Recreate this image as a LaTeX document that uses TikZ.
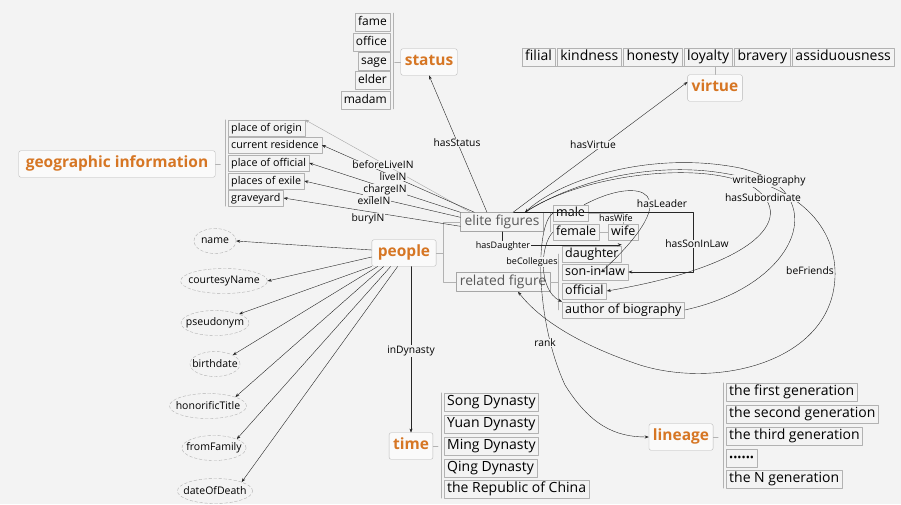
\documentclass[tikz,border=0pt]{standalone}
\usepackage{fontspec}
\setmainfont{Open Sans}
\usetikzlibrary{shapes.geometric,arrows.meta,positioning}
\definecolor{bgc}{RGB}{243,243,243}
\definecolor{topicc}{RGB}{214,118,36}
\begin{document}
\begin{tikzpicture}[x=1pt,y=-1pt,>={Stealth[length=4pt,width=3pt]},line join=round,line cap=round,
  font=\fontsize{10.5}{12}\selectfont,
  topic/.style={draw=gray!55,rounded corners=2pt,fill=white!60!bgc,text=topicc,inner xsep=4pt,inner ysep=6pt,
    font=\fontsize{15.5}{18}\selectfont\bfseries,text height=11pt,text depth=3.5pt},
  leaf/.style={draw=gray!60,inner xsep=3pt,inner ysep=1.8pt},
  sbig/.style={font=\fontsize{14}{16}\selectfont,text height=11pt,text depth=3.5pt},
  smid/.style={font=\fontsize{12.5}{15}\selectfont,text height=9.5pt,text depth=3pt},
  sstat/.style={font=\fontsize{12}{14}\selectfont,text height=10.5pt,text depth=3.5pt},
  sgeo/.style={font=\fontsize{10.7}{13}\selectfont,text height=9.5pt,text depth=3pt},
  fig/.style={draw=gray!70,text=black!65,inner xsep=4pt,inner ysep=3pt,font=\fontsize{13.8}{16}\selectfont,
    text height=10pt,text depth=3pt},
  attr/.style={ellipse,draw=gray!60,densely dashed,inner xsep=-5pt,inner ysep=0pt,
    minimum width=42pt,minimum height=25pt},
  rel/.style={->,thin,black!85},
  brk/.style={gray!60,thin},
  lbl/.style={font=\fontsize{10.3}{12}\selectfont,fill=bgc,inner sep=0.5pt}]
\fill[bgc] (0,0) rectangle (901,504);
\useasboundingbox (0,0) rectangle (901,504);

% status
\node[topic] (status) at (429,62) {status};
\node[leaf,sstat,anchor=east] (fame) at (390,22) {fame};
\node[leaf,sstat,anchor=east] (office) at (390,42) {office};
\node[leaf,sstat,anchor=east] (sage) at (390,61) {sage};
\node[leaf,sstat,anchor=east] (elder) at (390,80) {elder};
\node[leaf,sstat,anchor=east] (madam) at (390,100) {madam};
\draw[brk] ([xshift=3pt]fame.north east) -- ([xshift=3pt]madam.south east);
\draw[brk] (status.west) -- ++(-6,0);

% virtue
\node[topic] (virtue) at (715,88) {virtue};
\begin{scope}[every node/.append style={inner xsep=5pt}]
\node[leaf,sbig,anchor=west] (filial) at (522,57) {filial};
\node[leaf,sbig,right=2pt of filial] (kind) {kindness};
\node[leaf,sbig,right=2pt of kind] (honest) {honesty};
\node[leaf,sbig,right=2pt of honest] (loyal) {loyalty};
\node[leaf,sbig,right=2pt of loyal] (brave) {bravery};
\node[leaf,sbig,right=2pt of brave] (assid) {assiduousness};
\end{scope}
\draw[brk] (filial.south west) -- (assid.south east);
\draw[brk] (virtue.north) -- (virtue.north |- filial.south);

% geographic information
\node[topic,inner xsep=7pt] (geo) at (117,164) {geographic information};
\node[leaf,sgeo,anchor=west] (origin) at (228,128) {place of origin};
\node[leaf,sgeo,anchor=west] (resid) at (228,145) {current residence};
\node[leaf,sgeo,anchor=west] (poff) at (228,163) {place of official};
\node[leaf,sgeo,anchor=west] (exile) at (228,181) {places of exile};
\node[leaf,sgeo,anchor=west] (grave) at (228,198) {graveyard};
\draw[brk] ([xshift=-3pt]origin.north west) -- ([xshift=-3pt]grave.south west);
\draw[brk] (geo.east) -- ++(5,0);

% people and figures
\node[topic,inner xsep=6pt] (people) at (404,253) {people};
\node[fig] (elite) at (502,222) {elite figures};
\node[fig] (related) at (503,282) {related figure};
\draw[brk] (people.east) -- ++(7,0) coordinate (pb);
\draw[brk] (elite.west) -| (pb) |- (related.west);
\node[leaf,smid,anchor=west] (male) at (553,213) {male};
\node[leaf,smid,anchor=west] (female) at (553,232) {female};
\node[leaf,smid,anchor=west] (wife) at (608,232) {wife};
\node[leaf,smid,anchor=west] (daughter) at (562,254) {daughter};
\node[leaf,smid,anchor=west] (sil) at (562,272) {son-in-law};
\node[leaf,smid,anchor=west] (official) at (562,291) {official};
\node[leaf,smid,anchor=west] (author) at (562,310) {author of biography};
\draw[brk] ([xshift=-3pt]male.west) -- ([xshift=-3pt]female.west);
\draw[brk] ([xshift=-4pt]daughter.west) -- ([xshift=-4pt]author.west);
\draw[brk] (related.east) -- ([xshift=-4pt]related.east -| daughter.west);
\draw[brk] (female.east) -- (wife.west);

% attributes
\node[attr] (name) at (215,241) {name};
\node[attr] (cname) at (224,281) {courtesyName};
\node[attr] (pseud) at (215,323) {pseudonym};
\node[attr] (birth) at (215,364) {birthdate};
\node[attr] (honor) at (208,406) {honorificTitle};
\node[attr] (family) at (214,448) {fromFamily};
\node[attr] (death) at (215,491) {dateOfDeath};

% time
\node[topic] (time) at (411,446) {time};
\node[leaf,sbig,anchor=west] (song) at (444,402) {Song Dynasty};
\node[leaf,sbig,anchor=west] (yuan) at (444,424) {Yuan Dynasty};
\node[leaf,sbig,anchor=west] (ming) at (444,446) {Ming Dynasty};
\node[leaf,sbig,anchor=west] (qing) at (444,468) {Qing Dynasty};
\node[leaf,sbig,anchor=west] (roc) at (444,489) {the Republic of China};
\draw[brk] ([xshift=-3pt]song.north west) -- ([xshift=-3pt]roc.south west);
\draw[brk] (time.east) -- ++(5,0);

% lineage
\node[topic] (lineage) at (681,437) {lineage};
\node[leaf,sbig,anchor=west] (gen1) at (726,392) {the first generation};
\node[leaf,sbig,anchor=west] (gen2) at (726,414) {the second generation};
\node[leaf,sbig,anchor=west] (gen3) at (726,436) {the third generation};
\node[leaf,sbig,anchor=west] (gendots) at (726,458) {{\fontsize{11}{12}\selectfont ••••••}};
\node[leaf,sbig,anchor=west] (genN) at (726,479) {the N generation};
\draw[brk] ([xshift=-3pt]gen1.north west) -- ([xshift=-3pt]genN.south west);
\draw[brk] (lineage.east) -- ++(5,0);

% relations
\draw[rel] ([xshift=-15pt]elite.north) -- (status.south);
\draw[rel] ([xshift=11pt]elite.north) -- ([yshift=6pt]virtue.west);
\draw[->,thin,gray!70] ([xshift=10pt]elite.north west) -- (origin.north east);
\draw[rel] ([xshift=14pt]elite.north west) -- (resid.east);
\draw[rel] (elite.north west) -- (poff.east);
\draw[rel] ([yshift=-5pt]elite.north west) -- (exile.east);
\draw[rel] ([yshift=-14pt]elite.north west) -- (grave.east);
\draw[rel] ([yshift=3pt]people.west) -- (name.east);
\draw[rel] ([yshift=-4pt]people.west) -- (cname.east);
\draw[rel] (people.south west) -- (pseud.north east);
\draw[rel] ([xshift=6pt]people.south west) -- (birth.north east);
\draw[rel] ([xshift=12pt]people.south west) -- (honor.north east);
\draw[rel] ([xshift=19pt]people.south west) -- (family.north east);
\draw[rel] ([xshift=26pt]people.south west) -- (death.north east);
\draw[rel] (people.south -| time.north) -- (time.north);
\coordinate (etop) at ([xshift=23pt]elite.north);
\draw[rel] ([xshift=-30pt]elite.north east) -- ++(180,0) |- (sil.east);
\draw[rel] (elite.south) |- ([yshift=1pt]daughter.north east);
\draw[brk] (male.east) -| (wife.north);
\draw[rel] ([xshift=-4pt]male.north east) .. controls (640,175) and (690,190) .. ([xshift=6pt]sil.center);
\draw[rel] (author.east) .. controls (800,285) and (835,190) .. (740,168) .. controls (650,150) and (560,180) .. (etop);
\draw[rel] (etop) .. controls (580,175) and (700,160) .. (750,185) .. controls (800,215) and (760,265) .. (official.east);
\draw[rel] (etop) .. controls (640,140) and (830,160) .. (835,270) .. controls (838,360) and (720,390) .. (640,365) .. controls (580,345) and (540,320) .. ([xshift=15pt]related.south);
\draw[rel] (male.west) .. controls (535,225) and (535,320) .. (565,385) .. controls (590,425) and (615,437) .. (lineage.west);
\draw[rel] (female.west) .. controls (540,245) and (538,290) .. (author.north west);

% labels
\node[lbl] (lstatus) at (457,143) {hasStatus};
\node[lbl] (lvirtue) at (593,145) {hasVirtue};
\node[lbl] (lbefore) at (383,165) {beforeLiveIN};
\node[lbl] (llive) at (393,177) {liveIN};
\node[lbl] (lcharge) at (385,190) {chargeIN};
\node[lbl] (lexile) at (374,201) {exileIN};
\node[lbl] (lbury) at (368,219) {buryIN};
\node[lbl,font=\fontsize{9}{10}\selectfont] (lwife) at (616,218) {hasWife};
\node[lbl,font=\fontsize{9}{10}\selectfont] (ldaughter) at (503,246) {hasDaughter};
\node[lbl,font=\fontsize{9}{10}\selectfont] (lcoll) at (532,262) {beCollegues};
\node[lbl] (lleader) at (662,204) {hasLeader};
\node[lbl] (lsil) at (697,244) {hasSonInLaw};
\node[lbl] (lbio) at (769,181) {writeBiography};
\node[lbl] (lsub) at (763,198) {hasSubordinate};
\node[lbl] (lfriend) at (810,271) {beFriends};
\node[lbl] (lrank) at (545,343) {rank};
\node[lbl] (ldyn) at (411,351) {inDynasty};
\end{tikzpicture}
\end{document}
